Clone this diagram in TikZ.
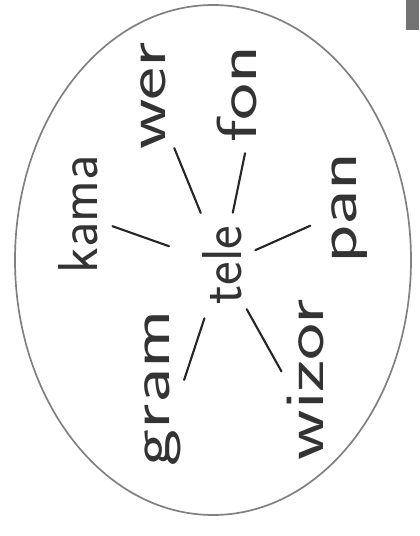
\documentclass[tikz,border=0pt]{standalone}
\usepackage{graphicx}
\usepackage{tikz}
\usetikzlibrary{positioning}

\newcommand{\stretchword}[1]{\scalebox{1.4}[1]{#1}}

\tikzset{
word/.style={rotate=90, inner sep=0pt, font=\sffamily\fontsize{40}{40}\selectfont, text=black!80},
spoke/.style={line width=1.5pt, black!85, line cap=round}
}

\begin{document}
\begin{tikzpicture}[x=0.025cm, y=-0.025cm]

\useasboundingbox (0,0) rectangle (419,536);

% outline
\draw[black!50, line width=1.2pt] (213,260) ellipse [x radius=198, y radius=255];
\fill[black!55] (406,0) rectangle (419,30);

\node[word] (tele) at (222,265) {tele};

\node[word] (kama) at (78,214) {kama};
\node[word] (wer) at (153,96) {\stretchword{wer}};
\node[word] (fon) at (237,94) {\stretchword{fon}};
\node[word] (pan) at (350,208) {\stretchword{pan}};
\node[word] (gram) at (163,388) {\stretchword{gram}};
\node[word] (wizor) at (305,380) {\stretchword{wizor}};

\draw[spoke, shorten <=40pt, shorten >=26pt] (tele.center) -- (kama.center);
\draw[spoke, shorten <=40pt, shorten >=40pt] (tele.center) -- (wer.center);
\draw[spoke, shorten <=38pt, shorten >=43pt] (tele.center) -- (fon.south);
\draw[spoke, shorten <=26pt, shorten >=31pt] (tele.center) -- (pan.center);
\draw[spoke, shorten <=40pt, shorten >=6pt] (tele.center) -- (gram.south);
\draw[spoke, shorten <=36pt, shorten >=7pt] (tele.center) -- (wizor.north);

\end{tikzpicture}
\end{document}
